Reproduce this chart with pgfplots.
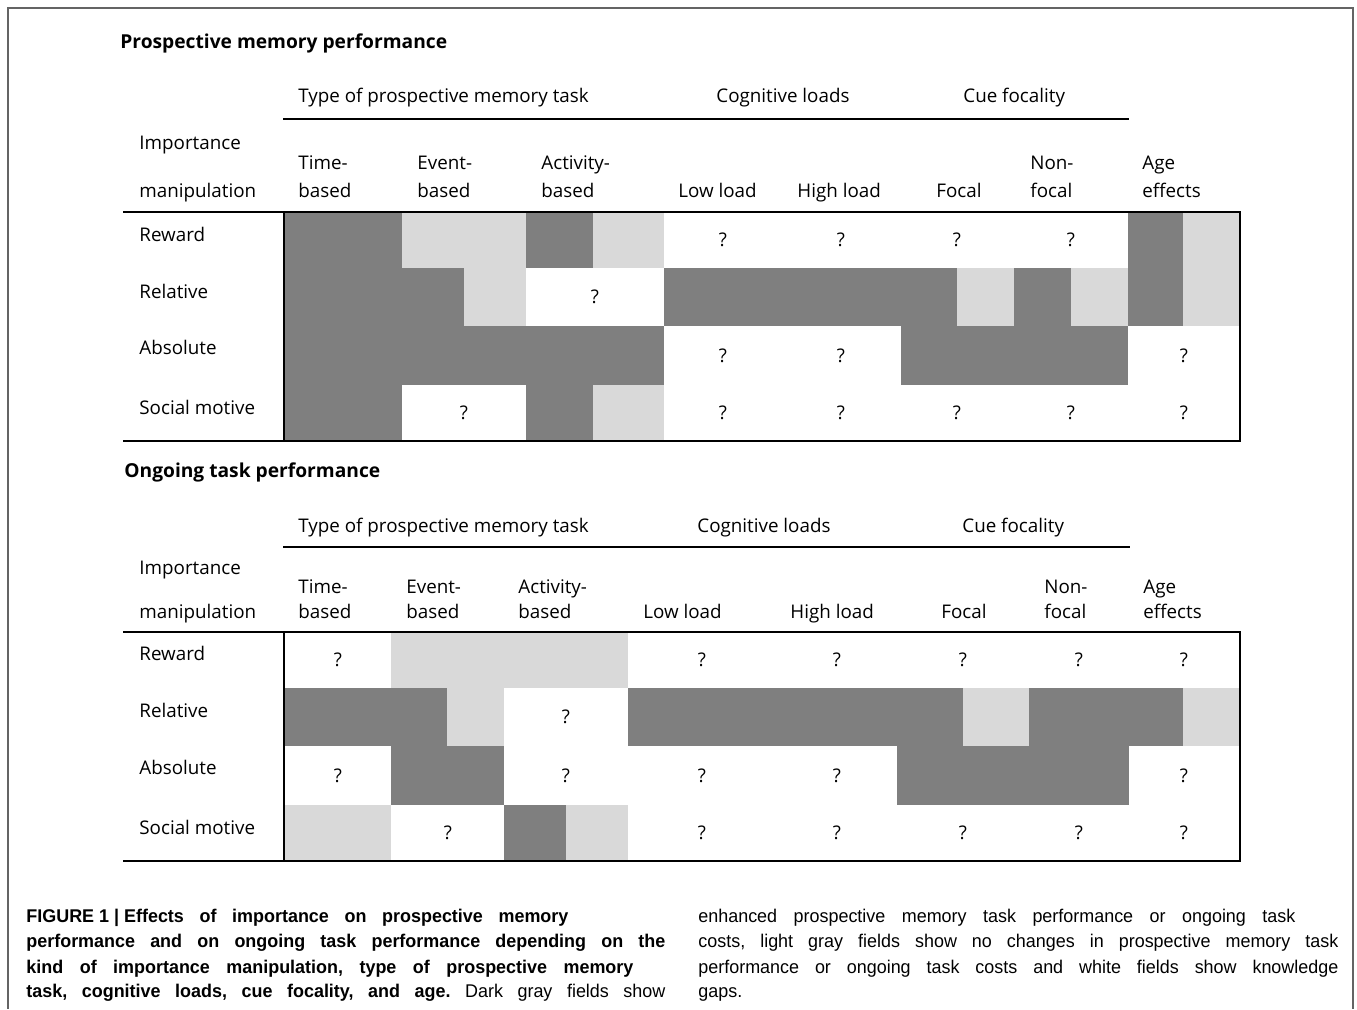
\documentclass[border=0pt]{standalone}
\usepackage{pgfplots}
\pgfplotsset{compat=1.18}
\usepackage{fontspec}
\setmainfont{Open Sans}
\newfontfamily\capfont[FakeStretch=0.975]{Liberation Sans}
\definecolor{dg}{RGB}{127,127,127}
\definecolor{lg}{RGB}{217,217,217}
\definecolor{framec}{RGB}{100,100,100}
\frenchspacing
% rectangle: colour, x1, x2, y1, y2 (pixel units of the reference)
\newcommand{\R}[5]{\addplot[fill=#1,draw=none] coordinates {(#2,#4) (#3,#4) (#3,#5) (#2,#5)};}
\newcommand{\Ln}[4]{\addplot[black,line width=1.15pt,line cap=rect] coordinates {(#1,#2) (#3,#4)};}
\tikzset{
  lab/.style={anchor=base west,inner sep=0pt,font=\fontsize{9.4}{11}\selectfont},
  ttl/.style={anchor=base west,inner sep=0pt,font=\fontsize{9.6}{11}\selectfont\bfseries},
  qm/.style={anchor=center,inner sep=0pt,font=\fontsize{9.4}{11}\selectfont},
  captxt/.style={anchor=base west,inner sep=0pt,font=\fontsize{9.2}{11}\selectfont\capfont\frenchspacing},
}
\begin{document}
\begin{tikzpicture}
\begin{axis}[scale only axis,width=678.5pt,height=504.5pt,
  xmin=0,xmax=1357,ymin=0,ymax=1009,y dir=reverse,
  axis lines=none,clip=false]
% background (sets the page)
\R{white}{0}{1357}{0}{1009}
% outer frame
\addplot[framec,line width=0.9pt] coordinates {(8,1009) (8,8) (1353,8) (1353,1009)};

% ================= Prospective memory performance =================
% dark fields
\R{dg}{284}{402}{212}{441}
\R{dg}{402}{464}{268}{326}
\R{dg}{402}{664}{326}{385}
\R{dg}{526}{593}{212}{268}
\R{dg}{526}{593}{385}{441}
\R{dg}{664}{957}{268}{326}
\R{dg}{1014}{1071}{268}{326}
\R{dg}{901}{1128}{326}{385}
\R{dg}{1128}{1183}{212}{326}
% light fields
\R{lg}{402}{526}{212}{268}
\R{lg}{464}{526}{268}{326}
\R{lg}{593}{664}{212}{268}
\R{lg}{593}{664}{385}{441}
\R{lg}{957}{1014}{268}{326}
\R{lg}{1071}{1128}{268}{326}
\R{lg}{1183}{1240}{212}{326}
% rules
\Ln{284}{119}{1128}{119}
\Ln{124}{212}{1240}{212}
\Ln{124}{441}{1240}{441}
\Ln{284}{212}{284}{441}
\Ln{1240}{212}{1240}{441}

% ================= Ongoing task performance =================
\R{dg}{284}{447}{688}{746}
\R{dg}{391}{504}{746}{805}
\R{dg}{504}{566}{805}{861}
\R{dg}{628}{963}{688}{746}
\R{dg}{1029}{1183}{688}{746}
\R{dg}{897}{1129}{746}{805}
\R{lg}{391}{628}{632}{688}
\R{lg}{447}{504}{688}{746}
\R{lg}{284}{391}{805}{861}
\R{lg}{566}{628}{805}{861}
\R{lg}{963}{1029}{688}{746}
\R{lg}{1183}{1240}{688}{746}
\Ln{284}{547}{1129}{547}
\Ln{124}{632}{1240}{632}
\Ln{124}{861}{1240}{861}
\Ln{284}{632}{284}{861}
\Ln{1240}{632}{1240}{861}

% ---------- texts, top ----------
\node[ttl] at (axis cs:120,49) {Prospective memory performance};
\node[lab] at (axis cs:298,103) {Type of prospective memory task};
\node[lab] at (axis cs:716,103) {Cognitive loads};
\node[lab] at (axis cs:963,103) {Cue focality};
\node[lab] at (axis cs:139,150) {Importance};
\node[lab] at (axis cs:139,198) {manipulation};
\node[lab] at (axis cs:298,170) {Time-};
\node[lab] at (axis cs:298,198) {based};
\node[lab] at (axis cs:417,170) {Event-};
\node[lab] at (axis cs:417,198) {based};
\node[lab] at (axis cs:541,170) {Activity-};
\node[lab] at (axis cs:541,198) {based};
\node[lab] at (axis cs:678,198) {Low load};
\node[lab] at (axis cs:797,198) {High load};
\node[lab] at (axis cs:936,198) {Focal};
\node[lab] at (axis cs:1030,170) {Non-};
\node[lab] at (axis cs:1030,198) {focal};
\node[lab] at (axis cs:1142,170) {Age};
\node[lab] at (axis cs:1142,198) {effects};
\node[lab] at (axis cs:139,242) {Reward};
\node[lab] at (axis cs:139,299) {Relative};
\node[lab] at (axis cs:139,355) {Absolute};
\node[lab] at (axis cs:139,415) {Social motive};
% question marks, top
\pgfplotsinvokeforeach{723,841,957,1071}{\node[qm] at (axis cs:#1,240) {?};}
\node[qm] at (axis cs:595,297) {?};
\pgfplotsinvokeforeach{723,841,1184}{\node[qm] at (axis cs:#1,355.5) {?};}
\pgfplotsinvokeforeach{464,723,841,957,1071,1184}{\node[qm] at (axis cs:#1,413) {?};}

% ---------- texts, bottom ----------
\node[ttl] at (axis cs:124,478) {Ongoing task performance};
\node[lab] at (axis cs:298,533) {Type of prospective memory task};
\node[lab] at (axis cs:697,533) {Cognitive loads};
\node[lab] at (axis cs:962,533) {Cue focality};
\node[lab] at (axis cs:139,575) {Importance};
\node[lab] at (axis cs:139,619) {manipulation};
\node[lab] at (axis cs:298,594) {Time-};
\node[lab] at (axis cs:298,619) {based};
\node[lab] at (axis cs:406,594) {Event-};
\node[lab] at (axis cs:406,619) {based};
\node[lab] at (axis cs:518,594) {Activity-};
\node[lab] at (axis cs:518,619) {based};
\node[lab] at (axis cs:643,619) {Low load};
\node[lab] at (axis cs:790,619) {High load};
\node[lab] at (axis cs:941,619) {Focal};
\node[lab] at (axis cs:1044,594) {Non-};
\node[lab] at (axis cs:1044,619) {focal};
\node[lab] at (axis cs:1143,594) {Age};
\node[lab] at (axis cs:1143,619) {effects};
\node[lab] at (axis cs:139,661) {Reward};
\node[lab] at (axis cs:139,718) {Relative};
\node[lab] at (axis cs:139,775) {Absolute};
\node[lab] at (axis cs:139,835) {Social motive};
\pgfplotsinvokeforeach{338,702,837,963,1079,1184}{\node[qm] at (axis cs:#1,660) {?};}
\node[qm] at (axis cs:566,717) {?};
\pgfplotsinvokeforeach{338,566,702,837,1184}{\node[qm] at (axis cs:#1,775.5) {?};}
\pgfplotsinvokeforeach{448,702,837,963,1079,1184}{\node[qm] at (axis cs:#1,833) {?};}

% ---------- caption ----------
\node[captxt] at (axis cs:26,923) {\makebox[271pt][s]{\bfseries\hbox{FIGURE 1 | Effects} of importance on prospective memory}};
\node[captxt] at (axis cs:26,948) {\makebox[319.5pt][s]{\bfseries performance and on ongoing task performance depending on the}};
\node[captxt] at (axis cs:26,973) {\makebox[303.5pt][s]{\bfseries kind of importance manipulation, type of prospective memory}};
\node[captxt] at (axis cs:26,998) {\makebox[319.5pt][s]{\textbf{task, cognitive loads, cue focality, and age.} Dark gray fields show}};
\node[captxt] at (axis cs:698,923) {\makebox[298.5pt][s]{enhanced prospective memory task performance or ongoing task}};
\node[captxt] at (axis cs:698,948) {\makebox[320pt][s]{costs, light gray fields show no changes in prospective memory task}};
\node[captxt] at (axis cs:698,973) {\makebox[320pt][s]{performance or ongoing task costs and white fields show knowledge}};
\node[captxt] at (axis cs:698,998) {gaps.};
\end{axis}
\end{tikzpicture}
\end{document}
